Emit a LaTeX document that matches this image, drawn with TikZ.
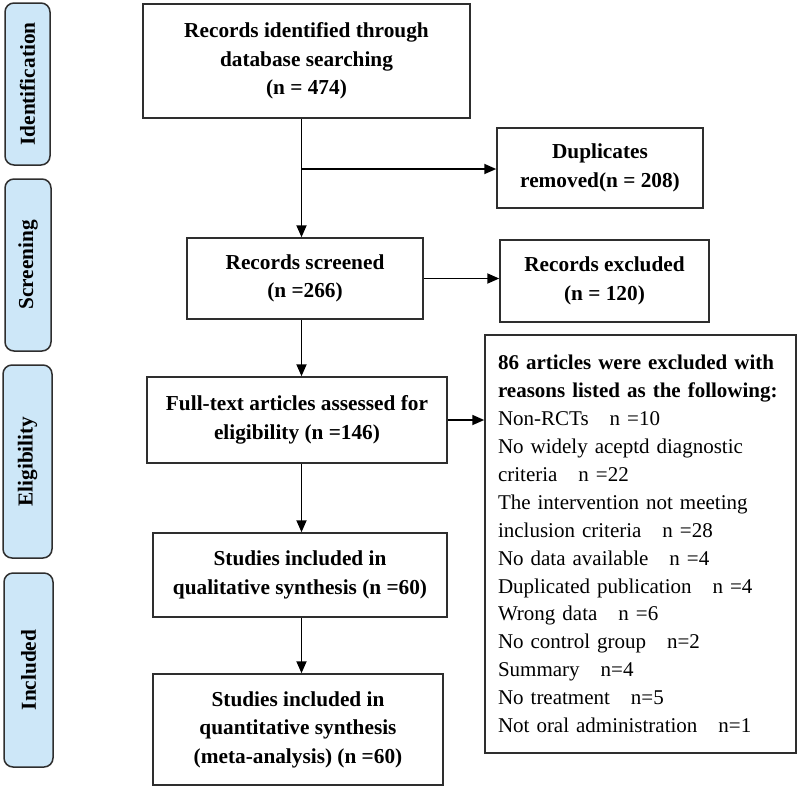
\documentclass[tikz,border=0pt]{standalone}
\usepackage{fontspec}
\setmainfont{Liberation Serif}
\usetikzlibrary{arrows.meta}
\definecolor{sidefill}{HTML}{CDE7F8}
\definecolor{linec}{HTML}{2E2E2E}
\begin{document}
\begin{tikzpicture}[x=1pt,y=-1pt,
  box/.style={draw=linec,line width=1.5pt,rectangle,inner sep=2pt,align=center,
    font=\bfseries\fontsize{21.3}{28.5}\selectfont},
  side/.style={draw=linec,line width=1.5pt,fill=sidefill,rounded corners=9pt,rotate=90,
    inner sep=0pt,font=\bfseries\fontsize{21.3}{24}\selectfont},
  arr/.style={draw=black,line width=1.8pt,-{Triangle[length=12pt,width=10pt]}},
  ln/.style={draw=black,line width=1.8pt}]
\useasboundingbox (0,0) rectangle (800,788);
% side labels
\node[side,minimum width=162pt,minimum height=45pt] (sid) at (27.5,84) {Identification};
\node[side,minimum width=172pt,minimum height=46pt] (ssc) at (28,265) {Screening};
\node[side,minimum width=193pt,minimum height=49pt] (sel) at (27.5,461.5) {Eligibility};
\node[side,minimum width=194pt,minimum height=49pt] (sin) at (28.5,670) {Included};
% main boxes
\node[box,minimum width=327pt,minimum height=114pt] (top) at (306.5,61)
  {Records identified through\\database searching\\(n = 474)};
\node[box,minimum width=206pt,minimum height=80pt] (dup) at (600,168)
  {Duplicates\\removed(n = 208)};
\node[box,minimum width=236pt,minimum height=81pt] (scr) at (305,278.5)
  {Records screened\\(n =266)};
\node[box,minimum width=209pt,minimum height=82pt] (exc) at (604.5,281)
  {Records excluded\\(n = 120)};
\node[box,minimum width=300pt,minimum height=86pt] (ft) at (297,420)
  {Full-text articles assessed for\\eligibility (n =146)};
\node[draw=linec,line width=1.5pt,rectangle,minimum width=311pt,minimum height=418pt,
  text width=285pt,inner xsep=13pt,inner ysep=0pt,align=left,
  font=\fontsize{21}{27.9}\selectfont] (ex) at (640.5,544)
  {\textbf{86 articles were excluded with}\\
   \textbf{reasons listed as the following:}\\
   Non-RCTs\quad n =10\\
   No widely aceptd diagnostic\\
   criteria\quad n =22\\
   The intervention not meeting\\
   inclusion criteria\quad n =28\\
   No data available\quad n =4\\
   Duplicated publication\quad n =4\\
   Wrong data\quad n =6\\
   No control group\quad n=2\\
   Summary\quad n=4\\
   No treatment\quad n=5\\
   Not oral administration\quad n=1};
\node[box,minimum width=294pt,minimum height=84pt] (ql) at (300,575)
  {Studies included in\\qualitative synthesis (n =60)};
\node[box,minimum width=290pt,minimum height=111pt] (qn) at (298,729.5)
  {Studies included in\\quantitative synthesis\\(meta-analysis) (n =60)};
% connectors
\coordinate (trunk) at (301.5,169);
\draw[ln] (trunk |- top.south) -- (trunk);
\draw[arr] (trunk) -- (trunk -| dup.west);
\draw[arr] (trunk) -- (trunk |- scr.north);
\draw[arr] (scr.east) -- (scr.east -| exc.west);
\draw[arr] (trunk |- scr.south) -- (trunk |- ft.north);
\draw[arr] (ft.east) -- (ft.east -| ex.west);
\draw[arr] (trunk |- ft.south) -- (trunk |- ql.north);
\draw[arr] (trunk |- ql.south) -- (trunk |- qn.north);
\end{tikzpicture}
\end{document}
